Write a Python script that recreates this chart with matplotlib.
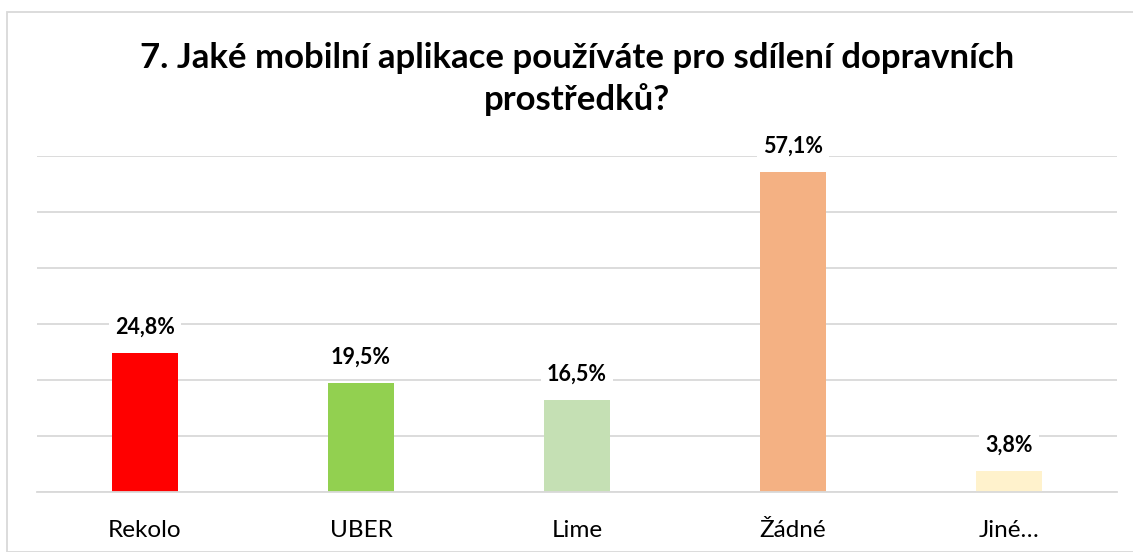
import matplotlib
matplotlib.use("Agg")
import matplotlib.pyplot as plt
from matplotlib.patches import Rectangle

plt.rcParams['font.family'] = ['Lato', 'DejaVu Sans']

categories = ["Rekolo", "UBER", "Lime", "Žádné", "Jiné…"]
values = [24.8, 19.5, 16.5, 57.1, 3.8]
colors = ["#FF0000", "#92D050", "#C5E0B4", "#F4B183", "#FFF2CC"]
title = "7. Jaké mobilní aplikace používáte pro sdílení dopravních\nprostředků?"

fig = plt.figure(figsize=(11.33, 5.52), dpi=100)
ax = fig.add_axes([37/1133, 60/552, 1080/1133, 336/552])

x = range(len(categories))
ax.bar(x, values, width=0.31, color=colors, zorder=2)
ax.set_xlim(-0.5, len(categories) - 0.5)
ax.set_ylim(0, 60)
ax.set_yticks(range(0, 61, 10))
ax.yaxis.grid(True, color="#D9D9D9", linewidth=1.3, zorder=0)
ax.tick_params(axis='y', left=False, labelleft=False)
ax.tick_params(axis='x', bottom=False, labelsize=17.5, pad=17)
ax.set_xticks(list(x))
ax.set_xticklabels(categories)
for s in ["top", "right", "left"]:
    ax.spines[s].set_visible(False)
ax.spines["bottom"].set_color("#D9D9D9")
ax.spines["bottom"].set_linewidth(1.3)

for i, v in enumerate(values):
    ax.annotate(f"{v:.1f}%".replace(".", ","), (i, v), xytext=(0, 11),
                textcoords="offset points", ha="center", va="bottom",
                fontsize=15.5, fontweight="bold",
                bbox=dict(boxstyle="square,pad=0.3", fc="white", ec="none"), zorder=3)

fig.text(577/1133, 1 - 79/552, title, ha="center", va="center",
         fontsize=25, fontweight="bold", linespacing=1.3)

fig.patches.append(Rectangle((7/1133, 0), 1.1, 1 - 12/552, transform=fig.transFigure,
                             fill=False, edgecolor="#D9D9D9", linewidth=1.3))

fig.savefig("out.png", dpi=100)
